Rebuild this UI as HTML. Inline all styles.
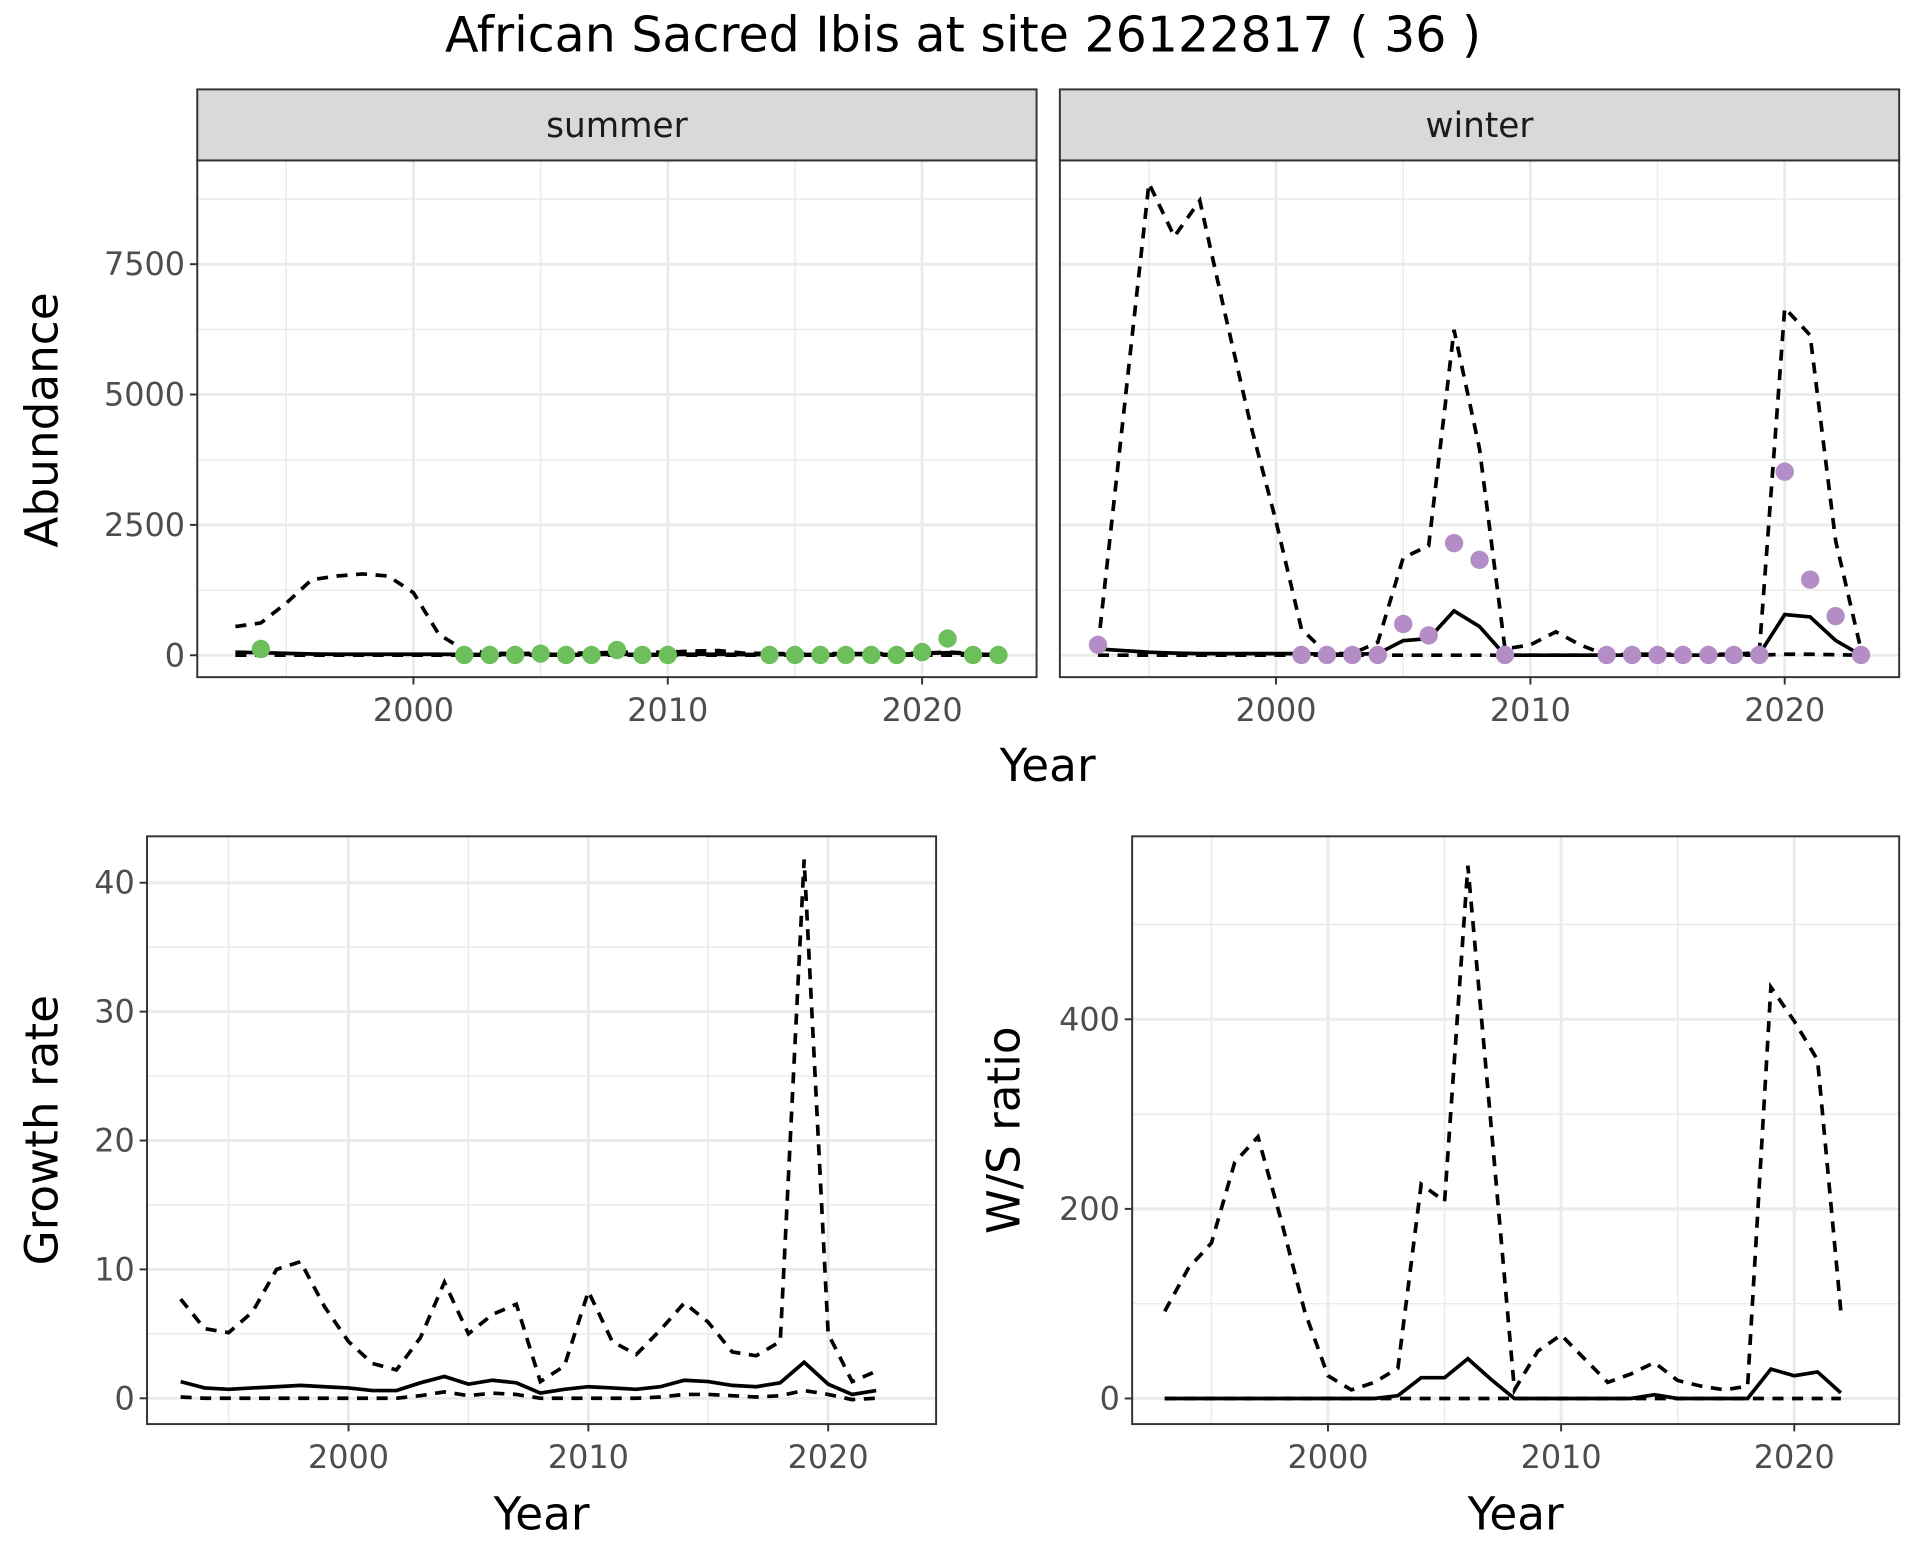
<!DOCTYPE html>
<html><head><meta charset="utf-8"><style>
html,body{margin:0;padding:0;background:#fff;}
svg{display:block;font-family:"DejaVu Sans","Liberation Sans",sans-serif;}
</style></head><body>
<svg id="chart" xmlns="http://www.w3.org/2000/svg" width="1920" height="1560" viewBox="0 0 1567 1274" preserveAspectRatio="none">
<rect width="1567" height="1274" fill="#fff"/>
<text x="786" y="42" font-size="40" text-anchor="middle" fill="#000">African Sacred Ibis at site 26122817 ( 36 )</text>
<g id="root"></g>
</svg>
<script>
// ---- Data ----
const summerYears = [1993,1994,1995,1996,1997,1998,1999,2000,2001,2002,2003,2004,2005,2006,2007,2008,2009,2010,2011,2012,2013,2014,2015,2016,2017,2018,2019,2020,2021,2022,2023];
const summerUpper = [550,620,1000,1450,1520,1560,1520,1200,400,100,40,30,40,40,40,60,60,60,80,90,40,30,30,30,30,30,30,40,60,40,20];
const summerMid = [60,50,35,25,20,20,20,20,20,15,15,15,20,15,15,20,15,15,20,20,15,15,15,15,15,15,20,30,50,25,10];
const summerLower = [0,0,0,0,0,0,0,0,0,0,0,0,0,0,0,0,0,0,0,0,0,0,0,0,0,0,0,0,0,0,0];
const summerPtYears = [1994,2002,2003,2004,2005,2006,2007,2008,2009,2010,2014,2015,2016,2017,2018,2019,2020,2021,2022,2023];
const summerPtVals = [120,5,5,5,30,5,5,100,5,5,5,5,5,5,5,5,60,320,5,5];

const winterYears = summerYears;
const winterUpper = [150,4600,9050,8030,8720,6540,4420,2570,500,30,30,250,1870,2100,6240,3960,120,200,450,190,0,20,20,20,20,20,50,6660,6140,2200,100];
const winterMid = [120,90,60,40,30,30,30,30,30,20,20,30,280,320,850,550,0,0,0,0,0,0,0,0,0,10,20,780,735,285,0];
const winterLower = [0,0,0,0,0,0,0,0,0,0,0,0,0,0,0,0,0,0,0,0,0,0,0,0,0,0,0,20,20,10,0];
const winterPtYears = [1993,2001,2002,2003,2004,2005,2006,2007,2008,2009,2013,2014,2015,2016,2017,2018,2019,2020,2021,2022,2023];
const winterPtVals = [200,5,5,5,5,600,380,2150,1830,5,5,5,5,5,5,5,5,3520,1450,750,5];

const growthYears = [1993,1994,1995,1996,1997,1998,1999,2000,2001,2002,2003,2004,2005,2006,2007,2008,2009,2010,2011,2012,2013,2014,2015,2016,2017,2018,2019,2020,2021,2022];
const growthUpper = [7.7,5.4,5.1,6.7,10.0,10.6,7.1,4.4,2.7,2.2,4.7,9.0,5.0,6.5,7.3,1.3,2.5,8.3,4.4,3.4,5.3,7.4,5.9,3.6,3.3,4.4,41.8,5.0,1.3,2.1];
const growthMid = [1.3,0.8,0.7,0.8,0.9,1.0,0.9,0.8,0.6,0.6,1.2,1.7,1.1,1.4,1.2,0.4,0.7,0.9,0.8,0.7,0.9,1.4,1.3,1.0,0.9,1.2,2.8,1.1,0.3,0.6];
const growthLower = [0.1,0,0,0,0,0,0,0,0,0,0.2,0.5,0.2,0.4,0.3,0,0,0,0,0,0.1,0.3,0.3,0.2,0.1,0.2,0.6,0.3,-0.1,0];

const ratioYears = growthYears;
const ratioUpper = [92,137,164,249,276,187,92,24,9,17,32,226,208,562,287,9,50,67,42,17,26,38,19,13,9,13,434,398,357,92];
const ratioMid = [0,0,0,0,0,0,0,0,0,0,3,22,22,42,20,0,0,0,0,0,0,4,0,0,0,0,31,24,28,6];
const ratioLower = [0,0,0,0,0,0,0,0,0,0,0,0,0,0,0,0,0,0,0,0,0,0,0,0,0,0,0,0,0,0];

const xTicks = [2000,2010,2020];
const xMinor = [1995,2005,2015];
const abTicks = [0,2500,5000,7500];
const abMinor = [1250,3750,6250,8750];
const grTicks = [0,10,20,30,40];
const grMinor = [5,15,25,35];
const raTicks = [0,200,400];
const raMinor = [100,300,500];

const NS = "http://www.w3.org/2000/svg";
const root = document.getElementById('root');
function mk(tag, attrs, parent){
  const e = document.createElementNS(NS, tag);
  for (const k in attrs) e.setAttribute(k, attrs[k]);
  (parent||root).appendChild(e);
  return e;
}

function panel(p){
  const g = mk('g', {});
  
  
  const sx = v => p.x0 + (v - p.xmin) / (p.xmax - p.xmin) * (p.x1 - p.x0);
  const sy = v => p.y1 - (v - p.ymin) / (p.ymax - p.ymin) * (p.y1 - p.y0);
  mk('rect', {x:p.x0, y:p.y0, width:p.x1-p.x0, height:p.y1-p.y0, fill:'#fff'}, g);
  p.yMinor.forEach(v => { const y = sy(v); if (y>p.y0 && y<p.y1) mk('line',{x1:p.x0,x2:p.x1,y1:y,y2:y,stroke:'#ebebeb','stroke-width':1.2},g); });
  xMinor.forEach(v => { const x = sx(v); mk('line',{x1:x,x2:x,y1:p.y0,y2:p.y1,stroke:'#ebebeb','stroke-width':1.2},g); });
  p.yTicks.forEach(v => { const y = sy(v); mk('line',{x1:p.x0,x2:p.x1,y1:y,y2:y,stroke:'#ebebeb','stroke-width':2.4},g); });
  xTicks.forEach(v => { const x = sx(v); mk('line',{x1:x,x2:x,y1:p.y0,y2:p.y1,stroke:'#ebebeb','stroke-width':2.4},g); });
  const series = [[p.upper,'9,7'],[p.mid,null],[p.lower,'9,7']];
  series.forEach(([vals,dash], i) => {
    const pts = vals.map((v,j) => sx(p.years[j]).toFixed(1)+','+sy(v).toFixed(1)).join(' ');
    const a = {points:pts, fill:'none', stroke:'#000', 'stroke-width':3};
    if (dash) a['stroke-dasharray'] = dash;
    const l = mk('polyline', a, g);
    
    
  });
  if (p.ptYears) p.ptYears.forEach((yr,j) => {
    const c = mk('circle', {cx:sx(yr), cy:sy(p.ptVals[j]), r:7.5, fill:p.ptColor}, g);
    
    
  });
  mk('rect', {x:p.x0, y:p.y0, width:p.x1-p.x0, height:p.y1-p.y0, fill:'none', stroke:'#333', 'stroke-width':1.6}, g);
  xTicks.forEach(v => {
    const x = sx(v);
    mk('line',{x1:x,x2:x,y1:p.y1,y2:p.y1+6,stroke:'#333','stroke-width':1.6},g);
    const t = mk('text',{x:x,y:p.y1+36,'font-size':26,'text-anchor':'middle',fill:'#4d4d4d'},g);
    t.textContent = v;
    
    
  });
  if (p.showY) p.yTicks.forEach(v => {
    const y = sy(v);
    mk('line',{x1:p.x0-6,x2:p.x0,y1:y,y2:y,stroke:'#333','stroke-width':1.6},g);
    const t = mk('text',{x:p.x0-10,y:y+9,'font-size':26,'text-anchor':'end',fill:'#4d4d4d'},g);
    t.textContent = v;
    
    
  });
  if (p.strip) {
    mk('rect',{x:p.x0,y:73,width:p.x1-p.x0,height:p.y0-73,fill:'#d9d9d9',stroke:'#333','stroke-width':1.6},g);
    const t = mk('text',{x:(p.x0+p.x1)/2,y:112,'font-size':28,'text-anchor':'middle',fill:'#1a1a1a'},g);
    t.textContent = p.strip;
    
    
  }
}

panel({name:'summer-panel', strip:'summer', x0:161, x1:846, y0:131, y1:553, xmin:1991.5, xmax:2024.5, ymin:-420, ymax:9490,
  years:summerYears, upper:summerUpper, mid:summerMid, lower:summerLower, ptYears:summerPtYears, ptVals:summerPtVals, ptColor:'#6dbf5b',
  yTicks:abTicks, yMinor:abMinor, showY:true});
panel({name:'winter-panel', strip:'winter', x0:865, x1:1550, y0:131, y1:553, xmin:1991.5, xmax:2024.5, ymin:-420, ymax:9490,
  years:winterYears, upper:winterUpper, mid:winterMid, lower:winterLower, ptYears:winterPtYears, ptVals:winterPtVals, ptColor:'#b48dc6',
  yTicks:abTicks, yMinor:abMinor, showY:false});
panel({name:'growth-rate-panel', x0:120, x1:764, y0:683, y1:1163, xmin:1991.6, xmax:2024.5, ymin:-2.0, ymax:43.6,
  years:growthYears, upper:growthUpper, mid:growthMid, lower:growthLower,
  yTicks:grTicks, yMinor:grMinor, showY:true});
panel({name:'ws-ratio-panel', x0:924, x1:1550, y0:683, y1:1163, xmin:1991.6, xmax:2024.5, ymin:-27, ymax:593,
  years:ratioYears, upper:ratioUpper, mid:ratioMid, lower:ratioLower,
  yTicks:raTicks, yMinor:raMinor, showY:true});

function label(txt, x, y, rot, name){
  const t = mk('text',{x:x,y:y,'font-size':37,'text-anchor':'middle',fill:'#000'});
  if (rot) t.setAttribute('transform','rotate(-90 '+x+' '+y+')');
  t.textContent = txt;
  
  
}
label('Year', 855, 638, false, 'top-x-axis-title');
label('Abundance', 47, 343, true, 'abundance-y-axis-title');
label('Year', 442, 1249, false, 'growth-x-axis-title');
label('Growth rate', 47, 923, true, 'growth-y-axis-title');
label('Year', 1237, 1249, false, 'ratio-x-axis-title');
label('W/S ratio', 832, 923, true, 'ratio-y-axis-title');
</script>
</body></html>
